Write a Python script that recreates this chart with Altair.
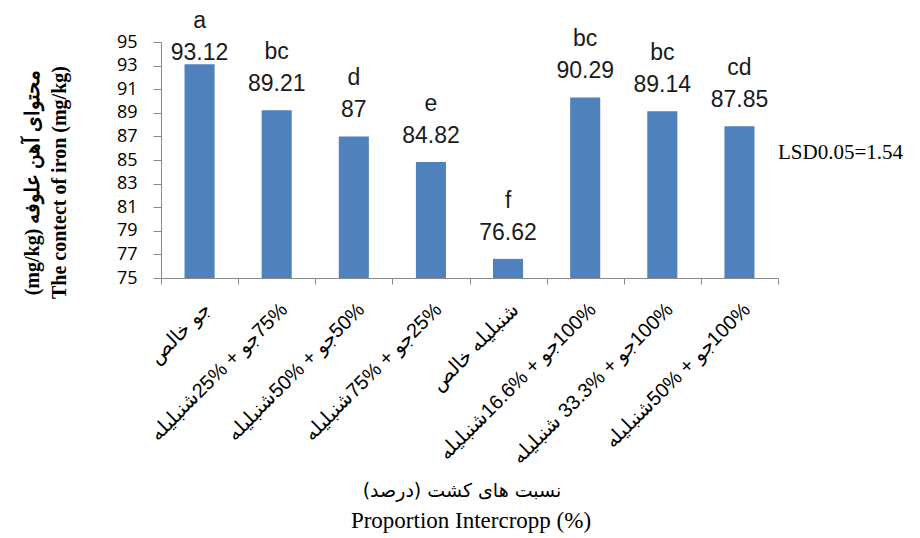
import altair as alt
import pandas as pd

LRM = "\u200e"

# ---- data ----
# (LRM marks keep the visual order of the mixed Persian / number labels as in the reference)
categories = [
    "جو خالص",
    "شنبلیله" + LRM + "25% + جو" + LRM + "75%",
    "شنبلیله" + LRM + "50% + جو" + LRM + "50%",
    "شنبلیله" + LRM + "75% + جو" + LRM + "25%",
    "شنبلیله خالص",
    "شنبلیله" + LRM + "16.6% + جو" + LRM + "100%",
    "شنبلیله" + LRM + " 33.3% + جو" + LRM + "100%",
    "شنبلیله" + LRM + "50% + جو" + LRM + "100%",
]
values = [93.12, 89.21, 87, 84.82, 76.62, 90.29, 89.14, 87.85]
value_labels = ["93.12", "89.21", "87", "84.82", "76.62", "90.29", "89.14", "87.85"]
letters = ["a", "bc", "d", "e", "f", "bc", "bc", "cd"]
y_ticks = [75, 77, 79, 81, 83, 85, 87, 89, 91, 93, 95]
lsd_text = ["LSD0.05=1.54"]

y_title = ["(mg/kg) محتوای آهن علوفه", "The contect of iron (mg/kg)"]
x_title_fa = ["(درصد" + LRM + ")" + LRM + " نسبت های کشت"]
x_title_en = ["Proportion Intercropp (%)"]

df = pd.DataFrame({
    "cat": categories,
    "value": values,
    "vlabel": value_labels,
    "letter": letters,
})

W, H = 617, 236
BLUE = "#4F81BD"
GRAY = "#888888"

x_enc = alt.X(
    "cat:N",
    sort=None,
    scale=alt.Scale(paddingInner=0, paddingOuter=0),
    axis=alt.Axis(
        labelAngle=-45,
        labelAlign="right",
        labelBaseline="top",
        labelFont="Liberation Sans",
        labelFontSize=20,
        labelColor="black",
        labelPadding=15,
        labelLimit=400,
        labelOverlap=False,
        tickBand="extent",
        tickSize=6,
        tickColor=GRAY,
        domainColor=GRAY,
        title=None,
    ),
)

y_scale = alt.Scale(domain=[75, 95], nice=False, zero=False)

y_axis = alt.Axis(
    values=y_ticks,
    tickCount=len(y_ticks),
    grid=False,
    labelFont="Open Sans",
    labelFontSize=18,
    labelColor="black",
    labelPadding=16,
    labelOverlap=False,
    tickSize=8,
    tickColor=GRAY,
    domainColor=GRAY,
    title=y_title,
    titleFont="Liberation Serif",
    titleFontSize=20,
    titleFontWeight="bold",
    titleColor="black",
    titleX=-129,
    titleY=140,
    titleBaseline="middle",
    titleAlign="center",
    titleLineHeight=27,
)

bars = alt.Chart(df).mark_bar(color=BLUE, width=alt.RelativeBandSize(0.39)).encode(
    x=x_enc,
    y=alt.Y("value:Q", scale=y_scale, axis=y_axis),
    y2=alt.datum(75),
)

# letter on the first line, value on the second; first-line baseline ~51px above bar top
labels = alt.Chart(df).transform_calculate(
    labpos="min(datum.value + 4.34, 96.2)",
    lines="[datum.letter, datum.vlabel]",
).mark_text(
    font="Liberation Sans", fontSize=23, baseline="alphabetic", lineHeight=32, color="#1a1a1a"
).encode(
    x=alt.X("cat:N", sort=None),
    y=alt.Y("labpos:Q", scale=y_scale, axis=y_axis),
    text=alt.Text("lines:N"),
)

lsd = alt.Chart(pd.DataFrame({"t": lsd_text})).mark_text(
    font="Liberation Serif", fontSize=21, align="left", baseline="middle", color="black"
).encode(
    text="t:N",
    x=alt.value(W),
    y=alt.datum(85.6),
)

xt_fa = alt.Chart(pd.DataFrame({"t": x_title_fa})).mark_text(
    font="DejaVu Sans", fontSize=19, align="center", baseline="middle", color="black"
).encode(
    text="t:N",
    x=alt.value(301),
    y=alt.value(H + 213),
)

xt_en = alt.Chart(pd.DataFrame({"t": x_title_en})).mark_text(
    font="Liberation Serif", fontSize=23, align="center", baseline="alphabetic", color="black"
).encode(
    text="t:N",
    x=alt.value(310),
    y=alt.value(H + 250),
)

chart = alt.layer(bars, labels, lsd, xt_fa, xt_en).properties(
    width=W,
    height=H,
    autosize=alt.AutoSizeParams(type="none"),
    padding={"left": 153, "top": 34, "right": 134, "bottom": 255},
    background="white",
).configure_view(stroke=None).configure_axis(labelOverlap=False)

chart.save("out.html", embed_options={"renderer": "svg", "actions": False})
